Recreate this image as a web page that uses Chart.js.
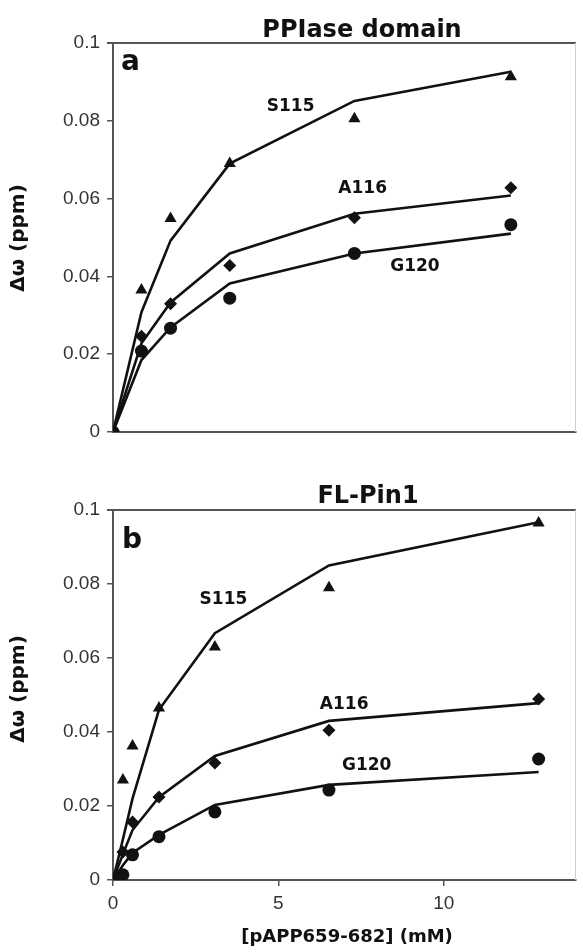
<!DOCTYPE html>
<html>
<head>
<meta charset="utf-8">
<script src="https://cdn.jsdelivr.net/npm/chart.js@4.4.0/dist/chart.umd.min.js"></script>
<style>
  html, body { margin: 0; padding: 0; background: #fff; }
  #wrap { position: relative; width: 583px; height: 952px; }
  canvas { position: absolute; left: 0; }
  #chartA { top: 0; }
  #chartB { top: 470px; }
</style>
</head>
<body>
<div id="wrap">
  <canvas id="chartA" width="583" height="470"></canvas>
  <canvas id="chartB" width="583" height="482"></canvas>
</div>
<script>
// panel a: PPIase domain, [pAPP659-682] in mM vs chemical shift change (ppm)
const concA = [0, 0.86, 1.74, 3.53, 7.30, 12.03];
const s115A = [0, 0.0365, 0.0549, 0.0690, 0.0805, 0.0913];
const a116A = [0, 0.0246, 0.0330, 0.0428, 0.0551, 0.0628];
const g120A = [0, 0.0208, 0.0267, 0.0344, 0.0459, 0.0533];
const s115FitA = [0, 0.0308, 0.0492, 0.0690, 0.0851, 0.0926];
const a116FitA = [0, 0.0228, 0.0333, 0.0459, 0.0561, 0.0608];
const g120FitA = [0, 0.0185, 0.0269, 0.0382, 0.0459, 0.0510];

// panel b: FL-Pin1
const concB = [0, 0.30, 0.59, 1.39, 3.08, 6.53, 12.87];
const s115B = [0, 0.0270, 0.0362, 0.0465, 0.0630, 0.0790, 0.0965];
const a116B = [0, 0.0076, 0.0157, 0.0224, 0.0316, 0.0405, 0.0489];
const g120B = [0, 0.0014, 0.0068, 0.0117, 0.0184, 0.0243, 0.0327];
const s115FitB = [0, 0.0110, 0.0220, 0.0460, 0.0667, 0.0850, 0.0967];
const a116FitB = [0, 0.0070, 0.0135, 0.0224, 0.0335, 0.0430, 0.0478];
const g120FitB = [0, 0.0040, 0.0073, 0.0122, 0.0203, 0.0257, 0.0292];

const yTicks = [0, 0.02, 0.04, 0.06, 0.08, 0.1];
const xTicks = [0, 5, 10];
const residues = ["S115", "A116", "G120"];

const INK = "#111";
const AXIS = "#555";

function pts(xs, ys) {
  return xs.map((x, i) => ({ x: x, y: ys[i] }));
}

function makeDatasets(conc, obs, fits) {
  const shapes = ["triangle", "rectRot", "circle"];
  const radii = [7, 6.5, 6.5];
  const sets = [];
  obs.forEach((ys, i) => {
    sets.push({
      label: residues[i],
      data: pts(conc, ys),
      showLine: false,
      pointStyle: shapes[i],
      pointRadius: radii[i],
      pointBackgroundColor: INK,
      pointBorderColor: INK,
      pointBorderWidth: 0,
    });
  });
  fits.forEach((ys, i) => {
    sets.push({
      label: residues[i] + " fit",
      data: pts(conc, ys),
      showLine: true,
      borderColor: INK,
      borderWidth: 2.6,
      pointRadius: 0,
      tension: 0,
    });
  });
  return sets;
}

// titles, panel letters, residue labels, frame
const panelText = {
  id: "panelText",
  afterDraw(chart, args, opts) {
    const ctx = chart.ctx;
    const area = chart.chartArea;
    const xs = chart.scales.x;
    const ys = chart.scales.y;
    ctx.save();
    ctx.strokeStyle = AXIS;
    ctx.lineWidth = 2;
    ctx.beginPath();
    ctx.moveTo(area.left - 6, area.top);
    ctx.lineTo(area.right, area.top);
    ctx.stroke();
    ctx.strokeStyle = "#cfcfcf";
    ctx.lineWidth = 1;
    ctx.beginPath();
    ctx.moveTo(area.right - 0.5, area.top);
    ctx.lineTo(area.right - 0.5, area.bottom);
    ctx.stroke();

    ctx.fillStyle = INK;
    ctx.textBaseline = "alphabetic";
    ctx.textAlign = "center";
    ctx.font = 'bold 24px "DejaVu Sans"';
    ctx.fillText(opts.title.text, opts.title.x, opts.title.y);

    ctx.textAlign = "left";
    ctx.font = 'bold 28px "DejaVu Sans"';
    ctx.fillText(opts.letter.text, opts.letter.x, opts.letter.y);

    ctx.textAlign = "center";
    ctx.font = 'bold 17px "DejaVu Sans"';
    opts.labels.forEach((l) => {
      ctx.fillText(l.text, xs.getPixelForValue(l.x), ys.getPixelForValue(l.y));
    });

    if (opts.xTitle) {
      ctx.font = 'bold 18px "DejaVu Sans"';
      ctx.fillText(opts.xTitle.text, opts.xTitle.x, opts.xTitle.y);
    }

    ctx.translate(opts.yTitle.x, opts.yTitle.y);
    ctx.rotate(-Math.PI / 2);
    ctx.textBaseline = "middle";
    ctx.font = 'bold 20px "DejaVu Sans"';
    ctx.fillText(opts.yTitle.text, 0, 0);
    ctx.restore();
  },
};

function makeChart(id, conc, obs, fits, o) {
  return new Chart(document.getElementById(id), {
    type: "scatter",
    data: { datasets: makeDatasets(conc, obs, fits) },
    options: {
      responsive: false,
      animation: false,
      layout: { padding: { top: o.padTop, right: 1, left: 0, bottom: 0 } },
      plugins: {
        legend: { display: false },
        tooltip: { enabled: false },
        panelText: o.text,
      },
      scales: {
        x: {
          type: "linear",
          min: 0,
          max: 14,
          afterBuildTicks: (axis) => {
            axis.ticks = xTicks.map((v) => ({ value: v }));
          },
          afterFit: (axis) => {
            axis.height = o.xHeight;
          },
          ticks: {
            display: o.showXTicks,
            color: "#333",
            padding: 6,
            font: { family: '"Liberation Sans", Arial', size: 19 },
          },
          grid: {
            drawOnChartArea: false,
            drawTicks: o.showXTicks,
            tickLength: 6,
            color: AXIS,
            lineWidth: 1.5,
          },
          border: { color: AXIS, width: 2 },
        },
        y: {
          min: 0,
          max: 0.1,
          afterBuildTicks: (axis) => {
            axis.ticks = yTicks.map((v) => ({ value: v }));
          },
          afterFit: (axis) => {
            axis.width = 113;
          },
          ticks: {
            color: "#333",
            padding: 7,
            font: { family: '"Liberation Sans", Arial', size: 19 },
            callback: (v) => String(+Number(v).toFixed(2)),
          },
          grid: {
            drawOnChartArea: false,
            drawTicks: true,
            tickLength: 6,
            color: AXIS,
            lineWidth: 1.5,
          },
          border: { color: AXIS, width: 2 },
        },
      },
    },
    plugins: [panelText],
  });
}

makeChart("chartA", concA, [s115A, a116A, g120A], [s115FitA, a116FitA, g120FitA], {
  padTop: 43,
  xHeight: 38,
  showXTicks: false,
  text: {
    title: { text: "PPIase domain", x: 362, y: 37 },
    letter: { text: "a", x: 121, y: 70 },
    yTitle: { text: "Δω (ppm)", x: 19, y: 238 },
    labels: [
      { text: "S115", x: 5.37, y: 0.0825 },
      { text: "A116", x: 7.55, y: 0.0614 },
      { text: "G120", x: 9.13, y: 0.0414 },
    ],
  },
});

makeChart("chartB", concB, [s115B, a116B, g120B], [s115FitB, a116FitB, g120FitB], {
  padTop: 40,
  xHeight: 72,
  showXTicks: true,
  text: {
    title: { text: "FL-Pin1", x: 368, y: 33 },
    letter: { text: "b", x: 122, y: 78 },
    yTitle: { text: "Δω (ppm)", x: 19, y: 219 },
    xTitle: { text: "[pAPP659-682] (mM)", x: 347, y: 472 },
    labels: [
      { text: "S115", x: 3.34, y: 0.0746 },
      { text: "A116", x: 6.99, y: 0.0462 },
      { text: "G120", x: 7.67, y: 0.0297 },
    ],
  },
});
</script>
</body>
</html>
